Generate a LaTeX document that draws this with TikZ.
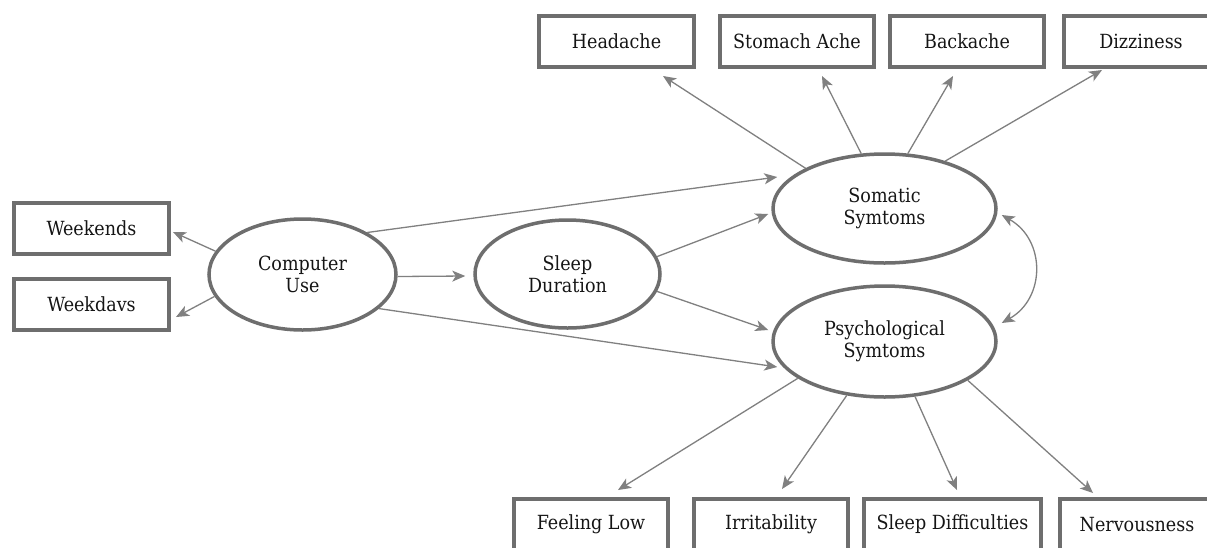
\documentclass[tikz,border=0pt]{standalone}
\usepackage{fontspec}
\setmainfont{DejaVu Serif Condensed}
\usetikzlibrary{arrows.meta,shapes.geometric}
\definecolor{bordergray}{HTML}{6E6E6E}
\definecolor{linegray}{HTML}{808080}
\definecolor{txt}{HTML}{151515}
\begin{document}
\begin{tikzpicture}[x=1pt,y=-1pt,
  every node/.style={font=\fontsize{19.5}{22}\selectfont, text=txt},
  obsbox/.style={draw=bordergray, line width=4pt, rectangle, minimum width=155pt, minimum height=51pt, inner sep=0pt},
  latent/.style={draw=bordergray, line width=3.5pt, ellipse, inner sep=0pt, align=center},
  arr/.style={draw=linegray, line width=1.3pt, -{Stealth[length=13pt,width=11pt,inset=3.5pt]}},
  arrb/.style={draw=linegray, line width=1.3pt, {Stealth[length=13pt,width=11pt,inset=3.5pt]}-{Stealth[length=13pt,width=11pt,inset=3.5pt]}}
]
\useasboundingbox (0,0) rectangle (1207,547);
\clip (0,0) rectangle (1207,547);
\fill[white] (0,0) rectangle (1207,547);

% observed boxes
\node[obsbox] (wkend) at (91.5,228.5) {Weekends};
\node[obsbox] (wkday) at (91.5,304.5) {Weekdavs};
\node[obsbox] (head) at (616.5,41.5) {Headache};
\node[obsbox, minimum width=154pt] (stom) at (797,41.5) {Stomach Ache};
\node[obsbox, minimum width=154pt] (back) at (967,41.5) {Backache};
\node[obsbox, minimum width=154pt] (dizz) at (1141,41.5) {Dizziness};
\node[obsbox, minimum width=154pt] (flow) at (591,524.5) {Feeling Low};
\node[obsbox, minimum width=154pt] (irr) at (771,524.5) {Irritability};
\node[obsbox, minimum width=177pt] (sdif) at (952.5,524.5) {Sleep Difficulties};
\node[obsbox, minimum width=154pt] (nerv) at (1137,524.5) {Nervousness};

% latent ellipses
\node[latent, minimum width=187pt, minimum height=111pt] (comp) at (302.5,274.5) {Computer\\Use};
\node[latent, minimum width=185pt, minimum height=108pt] (sleep) at (567.5,274) {Sleep\\Duration};
\node[latent, minimum width=223pt, minimum height=109pt] (som) at (884.5,208.5) {Somatic\\Symtoms};
\node[latent, minimum width=223pt, minimum height=111pt] (psy) at (884.5,341.5) {Psychological\\Symtoms};

% computer use indicators
\draw[arr] (comp.165.3) -- ([xshift=2pt,yshift=-3.5pt]wkend.east);
\draw[arr] (comp.194.1) -- ([xshift=5pt,yshift=-12.5pt]wkday.east);

% structural paths
\draw[arr] ([yshift=-2pt]comp.east) -- ([xshift=-8pt,yshift=-2pt]sleep.west);
\draw[arr] (comp.33) -- ([xshift=6pt,yshift=31.5pt]som.west);
\draw[arr] (comp.336) -- ([xshift=6pt,yshift=-25.5pt]psy.west);
\draw[arr] (sleep.11.9) -- ([xshift=-3pt,yshift=-5.5pt]som.west);
\draw[arr] (sleep.349) -- ([xshift=-3pt,yshift=11.5pt]psy.west);

% somatic indicators
\draw[arr] (som.153) -- ([xshift=46.5pt,yshift=-7pt]head.south);
\draw[arr] (som.113.4) -- ([xshift=25pt,yshift=-7pt]stom.south);
\draw[arr] (som.67.4) -- ([xshift=-14pt,yshift=-7pt]back.south);
\draw[arr] (som.38.9) -- ([xshift=-39pt,yshift=-1pt]dizz.south);

% psychological indicators
\draw[arr] (psy.203.3) -- ([xshift=27pt,yshift=7pt]flow.north);
\draw[arr] (psy.235.5) -- ([xshift=11pt,yshift=8pt]irr.north);
\draw[arr] (psy.299.6) -- ([xshift=4.5pt,yshift=7pt]sdif.north);
\draw[arr] (psy.335.2) -- ([xshift=-44pt,yshift=4pt]nerv.north);

% covariance
\draw[arrb] ([xshift=4pt,yshift=-6.5pt]som.east) .. controls +(44,25) and +(44,-25) .. ([xshift=4pt,yshift=18.5pt]psy.east);
\end{tikzpicture}
\end{document}
